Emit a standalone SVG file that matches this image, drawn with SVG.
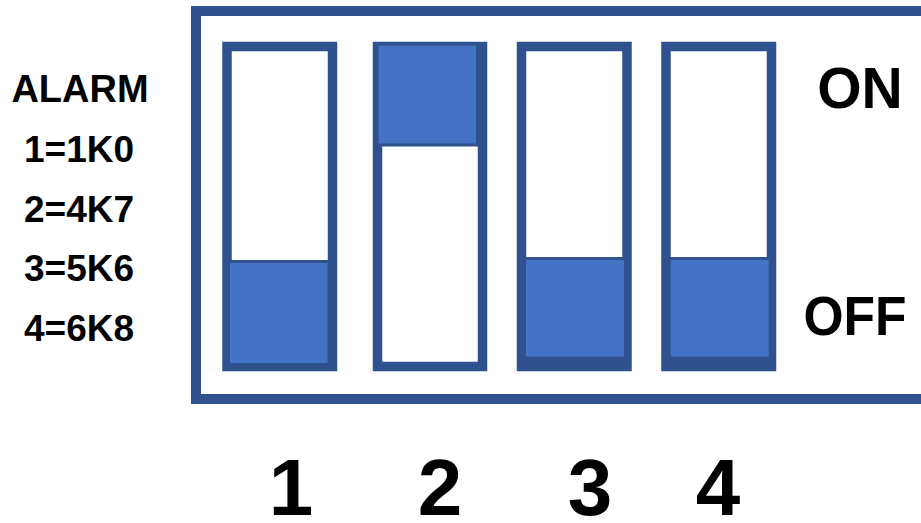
<svg xmlns="http://www.w3.org/2000/svg" width="921" height="523" viewBox="0 0 921 523">
<style>
.frame{fill:none;stroke:#2F528F;stroke-width:10}
.sw{fill:#fff;stroke:#2F528F;stroke-width:9.5}
.sl{fill:#4472C4;stroke:#2F528F;stroke-width:3}
.dk{fill:#2F528F}
.t{font-family:"Liberation Sans",Arial,sans-serif;font-weight:bold;fill:#000;text-anchor:middle}
</style>
<rect width="921" height="523" fill="#fff"/>
<g id="housing"><rect class="frame" x="196" y="11" width="800" height="388"/></g>
<g id="switch1"><rect class="sw" x="227" y="46.5" width="105.5" height="320"/><rect class="sl" x="228.5" y="261.5" width="100.5" height="103"/></g>
<g id="switch2"><rect class="sw" x="377.5" y="46.5" width="105" height="320"/><rect class="sl" x="377" y="44" width="100.5" height="101"/></g>
<g id="switch3"><rect class="sw" x="521.5" y="46.5" width="105.5" height="320"/><rect class="dk" x="524" y="354" width="100" height="10"/><rect class="sl" x="524.5" y="258.5" width="101" height="99.5"/></g>
<g id="switch4"><rect class="sw" x="666" y="46.5" width="105.5" height="320"/><rect class="dk" x="668" y="354" width="100" height="10"/><rect class="sl" x="669.2" y="258.5" width="101" height="99.5"/></g>
<g id="labels">
<text class="t" x="80" y="102" font-size="38">ALARM</text>
<text class="t" x="79" y="162" font-size="37">1=1K0</text>
<text class="t" x="79" y="222" font-size="37">2=4K7</text>
<text class="t" x="79" y="281" font-size="37">3=5K6</text>
<text class="t" x="79" y="341" font-size="37">4=6K8</text>
<text class="t" x="860" y="108" font-size="57">ON</text>
<text class="t" x="855" y="335" font-size="56" textLength="103" lengthAdjust="spacingAndGlyphs">OFF</text>
<text class="t" x="291" y="515" font-size="80">1</text>
<text class="t" x="440" y="515" font-size="80">2</text>
<text class="t" x="590" y="515" font-size="80">3</text>
<text class="t" x="718" y="515" font-size="80">4</text>
</g>
</svg>
